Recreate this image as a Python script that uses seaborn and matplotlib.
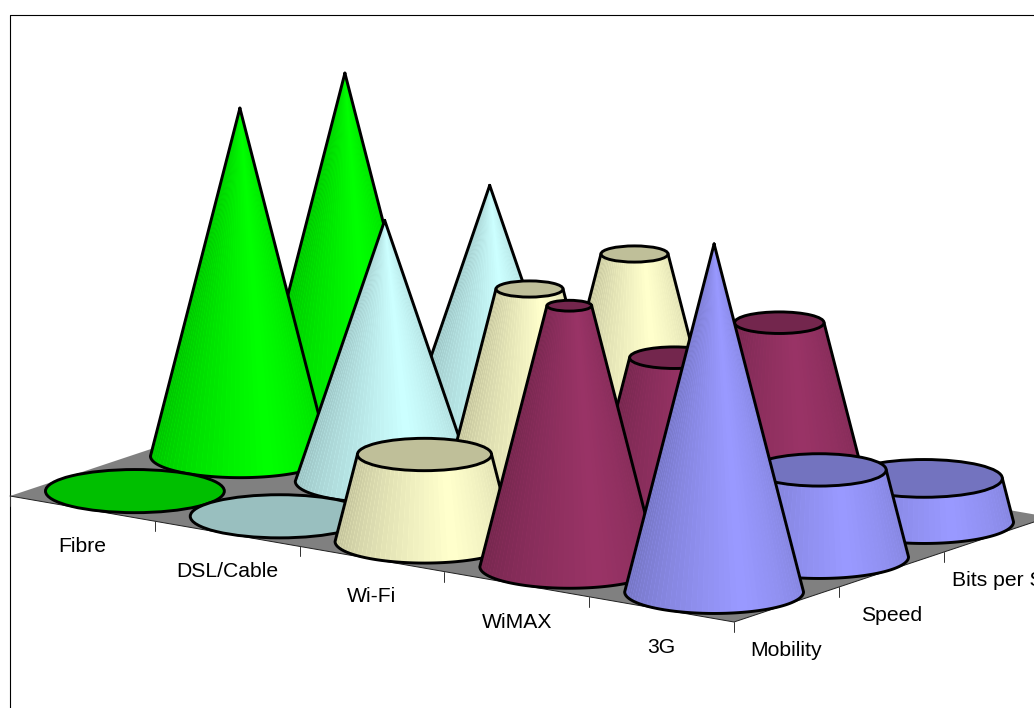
import numpy as np
import pandas as pd
import seaborn as sns
import matplotlib.pyplot as plt
from matplotlib.patches import Ellipse, Polygon

categories = ['Fibre', 'DSL/Cable', 'Wi-Fi', 'WiMAX', '3G']
series_names = ['Mobility', 'Speed', 'Bits per Second']
mobility = [0, 0, 2, 6, 8]
speed = [8, 6, 5, 4, 2]
bits_per_second = [8, 6, 5, 4, 1]
value_max = 8
# these cones come to a point at their own value, the rest are cut off
pointed = ['DSL/Cable']
colors = ['#00FF00', '#CCFFFF', '#FFFFCC', '#993366', '#9999FF']

# oblique projection of the chart onto the image, in pixels
ORIGIN = np.array([10.0, 496.0])
CAT_STEP = np.array([144.8, 25.2])
SER_STEP = np.array([105.0, -35.0])
VALUE_PX = 43.5
RADIUS = 0.5
LINE = 2.1


def project(cat, ser, value=0.0):
    p = ORIGIN + cat * CAT_STEP + ser * SER_STEP
    return p - np.array([0.0, value * VALUE_PX])


def darker(color, factor):
    return tuple(c * factor for c in plt.matplotlib.colors.to_rgb(color))


def ring(center, scale, angles):
    rx = np.hypot(CAT_STEP[0], SER_STEP[0]) * RADIUS * scale
    ry = np.hypot(CAT_STEP[1], SER_STEP[1]) * RADIUS * scale
    return np.column_stack([
        center[0] + rx * np.cos(angles),
        center[1] - ry * np.sin(angles),
    ])


def draw_disc(ax, center, scale, color, zorder):
    rx = np.hypot(CAT_STEP[0], SER_STEP[0]) * RADIUS * scale
    ry = np.hypot(CAT_STEP[1], SER_STEP[1]) * RADIUS * scale
    ax.add_patch(Ellipse(center, 2 * rx, 2 * ry, facecolor=color,
                         edgecolor='black', linewidth=LINE, zorder=zorder))


def draw_cone(ax, cat, ser, value, color, is_pointed, zorder):
    base = project(cat + 0.5, ser + 0.5)
    top = project(cat + 0.5, ser + 0.5, value)
    if value == 0:
        draw_disc(ax, base, 1.0, darker(color, 0.75), zorder)
        return
    top_scale = 0.0 if is_pointed else 1 - value / value_max

    t = np.linspace(np.pi, 2 * np.pi, 120)
    # solid body under the strips so far cones do not show through the seams
    body = np.vstack([ring(base, 1.0, t), ring(top, top_scale, t[::-1])])
    ax.add_patch(Polygon(body, closed=True, facecolor=color, edgecolor='none',
                         zorder=zorder))

    # shading runs dark on the left, brightest right of centre
    n_left, n_right = 29, 19
    shades = (sns.blend_palette([darker(color, 0.74), color], n_left)
              + sns.blend_palette([color, darker(color, 0.86)], n_right))
    edges = np.linspace(np.pi, 2 * np.pi, n_left + n_right + 1)
    for i, shade in enumerate(shades):
        s = np.linspace(edges[i], edges[i + 1], 4)
        lower = ring(base, 1.0, s)
        upper = ring(top, top_scale, s[::-1])
        ax.add_patch(Polygon(np.vstack([lower, upper]), closed=True,
                             facecolor=shade, edgecolor='none', zorder=zorder))

    outline = np.vstack([ring(top, top_scale, t[:1]), ring(base, 1.0, t),
                         ring(top, top_scale, t[-1:])])
    ax.plot(outline[:, 0], outline[:, 1], color='black', linewidth=LINE,
            solid_joinstyle='round', zorder=zorder)
    if top_scale > 0:
        draw_disc(ax, top, top_scale, darker(color, 0.75), zorder)


def plot_chart():
    sns.set_theme(style='white')
    plt.rcParams['font.family'] = ['Liberation Sans', 'DejaVu Sans']

    table = pd.DataFrame(
        {'Mobility': mobility, 'Speed': speed, 'Bits per Second': bits_per_second},
        index=categories,
    )

    fig = plt.figure(figsize=(10.34, 7.08), dpi=100)
    ax = fig.add_axes([0, 0, 1, 1])
    ax.set_xlim(0, 1034)
    ax.set_ylim(708, 0)
    ax.axis('off')

    # chart frame runs off the right and bottom of the image
    ax.plot([10, 10, 1100], [760, 15, 15], color='black', linewidth=0.8, zorder=1)

    n_cat, n_ser = len(categories), len(series_names)
    floor = [project(0, 0), project(n_cat, 0), project(n_cat, n_ser), project(0, n_ser)]
    ax.add_patch(Polygon(floor, closed=True, facecolor='#808080', edgecolor='none', zorder=2))
    front = np.array([project(0, 0), project(n_cat, 0), project(n_cat, n_ser)])
    ax.plot(front[:, 0], front[:, 1], color='#202020', linewidth=0.7, zorder=2)

    # tick marks along the two front edges
    for i in range(n_cat + 1):
        p = project(i, 0)
        ax.plot([p[0], p[0]], [p[1], p[1] + 10], color='#303030', linewidth=0.7, zorder=2)
    for j in range(1, n_ser):
        p = project(n_cat, j)
        ax.plot([p[0], p[0]], [p[1], p[1] + 10], color='#303030', linewidth=0.7, zorder=2)

    for i, name in enumerate(categories):
        p = project(i + 0.5, 0)
        ax.text(p[0], p[1] + 38, name, fontsize=15.2, color='black',
                ha='center', va='center')
    series_label_x = [750, 861, 952]
    for j, name in enumerate(series_names):
        p = project(n_cat, j + 0.5)
        ax.text(series_label_x[j], p[1] + 46, name, fontsize=15.2, color='black',
                ha='left', va='center')

    # back row first, then left to right, so nearer cones cover the far ones
    zorder = 3
    for j in reversed(range(n_ser)):
        for i, name in enumerate(categories):
            draw_cone(ax, i, j, table.loc[name, series_names[j]], colors[i],
                      name in pointed, zorder)
            zorder += 1

    fig.savefig('out.png', dpi=100)
    plt.close(fig)


if __name__ == '__main__':
    plot_chart()
